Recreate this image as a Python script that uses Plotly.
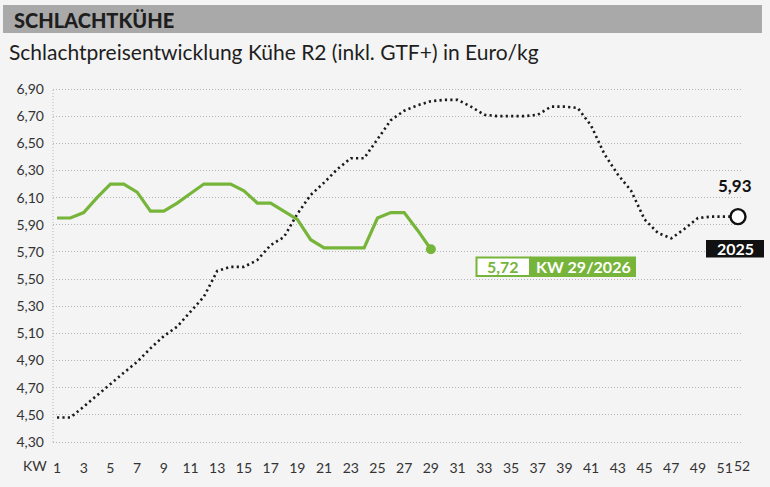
import plotly.graph_objects as go

# ---------------- data ----------------
weeks_2025 = list(range(1, 53))
prices_2025 = [4.48, 4.48, 4.56, 4.645, 4.73, 4.81, 4.89, 4.99, 5.08, 5.15,
               5.26, 5.37, 5.56, 5.59, 5.59, 5.64, 5.75, 5.81, 5.98, 6.12,
               6.21, 6.31, 6.39, 6.39, 6.53, 6.67, 6.74, 6.78, 6.81, 6.82,
               6.82, 6.77, 6.71, 6.70, 6.70, 6.70, 6.71, 6.77, 6.77, 6.76,
               6.63, 6.42, 6.27, 6.15, 5.94, 5.84, 5.80, 5.87, 5.95, 5.96,
               5.96, 5.96]

weeks_2026 = list(range(1, 30))
prices_2026 = [5.95, 5.95, 5.99, 6.10, 6.20, 6.20, 6.14, 6.00, 6.00, 6.06,
               6.13, 6.20, 6.20, 6.20, 6.15, 6.06, 6.06, 6.00, 5.94, 5.79,
               5.73, 5.73, 5.73, 5.73, 5.95, 5.99, 5.99, 5.86, 5.72]

x_tick_vals = [1, 3, 5, 7, 9, 11, 13, 15, 17, 19, 21, 23, 25, 27, 29, 31,
               33, 35, 37, 39, 41, 43, 45, 47, 49, 51, 52]
x_tick_text = [str(v) for v in x_tick_vals]
y_tick_vals = [4.30, 4.50, 4.70, 4.90, 5.10, 5.30, 5.50, 5.70, 5.90, 6.10,
               6.30, 6.50, 6.70, 6.90]
y_tick_text = ["4,30", "4,50", "4,70", "4,90", "5,10", "5,30", "5,50",
               "5,70", "5,90", "6,10", "6,30", "6,50", "6,70", "6,90"]

title_text = "SCHLACHTKÜHE"
subtitle_text = "Schlachtpreisentwicklung Kühe R2 (inkl. GTF+) in Euro/kg"
x_axis_label = "KW"
last_2025_label = "5,93"
series_2025_label = "2025"
last_2026_label = "5,72"
week_2026_label = "KW 29/2026"

# ---------------- style ----------------
W, H = 770, 487
ML, MR, MT, MB = 53, 27, 85, 41
PW, PH = W - ML - MR, H - MT - MB
GREEN = "#77b53a"
BG = "#f4f4f4"
GRID = "#b4b4b4"
FONT = "Lato"
TICK_FONT = dict(family=FONT, size=14, color="#333")


def px(x):
    return (x - ML) / PW


def py(y):
    return (H - MB - y) / PH


fig = go.Figure()

fig.add_trace(go.Scatter(
    x=weeks_2025, y=prices_2025, mode="lines",
    line=dict(color="#1a1a1a", width=2.6, dash="2.2px,3.2px"),
    hoverinfo="skip", cliponaxis=False, showlegend=False))

fig.add_trace(go.Scatter(
    x=weeks_2026, y=prices_2026, mode="lines",
    line=dict(color=GREEN, width=3.2),
    hoverinfo="skip", cliponaxis=False, showlegend=False))

fig.add_trace(go.Scatter(
    x=[weeks_2026[-1]], y=[prices_2026[-1]], mode="markers",
    marker=dict(color=GREEN, size=10),
    hoverinfo="skip", cliponaxis=False, showlegend=False))

fig.add_trace(go.Scatter(
    x=[weeks_2025[-1]], y=[prices_2025[-1]], mode="markers",
    marker=dict(color="white", size=15, line=dict(color="#111", width=2.4)),
    hoverinfo="skip", cliponaxis=False, showlegend=False))

# y range chosen so that 6.90 / 4.30 sit 4 px inside the plot edges
ppu = (PH - 8) / (6.90 - 4.30)
y_lo = 4.30 - 4 / ppu
y_hi = 6.90 + 4 / ppu
x_ppw = (738 - 57) / 51
x_lo = 1 - (57 - ML) / x_ppw
x_hi = 52 + (ML + PW - 738) / x_ppw

shapes = [
    # header band
    dict(type="rect", xref="paper", yref="paper", x0=px(3), x1=px(762),
         y0=py(33), y1=py(5), fillcolor="#a9a9a9", line=dict(width=0),
         layer="below"),
    # dotted y axis line
    dict(type="line", xref="paper", yref="y", x0=0, x1=0, y0=4.30, y1=6.90,
         line=dict(color=GRID, width=1, dash="1px,2px"), layer="below"),
    # label box for current week
    dict(type="rect", xref="paper", yref="paper", x0=px(476.5), x1=px(530),
         y0=py(276), y1=py(257.5), fillcolor="white",
         line=dict(color=GREEN, width=2)),
    dict(type="rect", xref="paper", yref="paper", x0=px(530), x1=px(636),
         y0=py(277), y1=py(256.5), fillcolor=GREEN, line=dict(width=0)),
    # 2025 box
    dict(type="rect", xref="paper", yref="paper", x0=px(706), x1=px(764),
         y0=py(257.5), y1=py(240), fillcolor="#111", line=dict(width=0)),
]

annotations = [
    dict(text=title_text, xref="paper", yref="paper", x=px(12), y=py(19.5),
         xanchor="left", yanchor="middle", showarrow=False,
         font=dict(family=FONT, size=20, color="#1e1e1e", weight=900)),
    dict(text=subtitle_text, xref="paper", yref="paper", x=px(7), y=py(51),
         xanchor="left", yanchor="middle", showarrow=False,
         font=dict(family=FONT, size=21, color="#1e1e1e")),
    dict(text=x_axis_label, xref="paper", yref="paper", x=px(35), y=py(466),
         xanchor="center", yanchor="middle", showarrow=False,
         font=TICK_FONT),
    # last week label, nudged right so it does not collide with "51"
    dict(text=x_tick_text[-1], xref="x", yref="paper", x=x_tick_vals[-1],
         y=py(466), xanchor="center", yanchor="middle", xshift=4,
         showarrow=False, font=TICK_FONT),
    dict(text=last_2026_label, xref="paper", yref="paper", x=px(503),
         y=py(266.5), xanchor="center", yanchor="middle", showarrow=False,
         font=dict(family=FONT, size=16, color=GREEN, weight=700)),
    dict(text=week_2026_label, xref="paper", yref="paper", x=px(583),
         y=py(266.5), xanchor="center", yanchor="middle", showarrow=False,
         font=dict(family=FONT, size=16, color="white", weight=700)),
    dict(text=series_2025_label, xref="paper", yref="paper", x=px(735),
         y=py(248.7), xanchor="center", yanchor="middle", showarrow=False,
         font=dict(family=FONT, size=16, color="white", weight=700)),
    dict(text=last_2025_label, xref="paper", yref="paper", x=px(735),
         y=py(185), xanchor="center", yanchor="middle", showarrow=False,
         font=dict(family=FONT, size=17, color="#111", weight=700)),
]

fig.update_layout(
    width=W, height=H,
    margin=dict(l=ML, r=MR, t=MT, b=MB, pad=0),
    paper_bgcolor=BG, plot_bgcolor=BG,
    showlegend=False,
    shapes=shapes, annotations=annotations,
    xaxis=dict(range=[x_lo, x_hi], tickvals=x_tick_vals[:-1],
               ticktext=x_tick_text[:-1],
               showgrid=False, zeroline=False, showline=False, ticks="",
               tickangle=0, ticklabelstandoff=12, tickfont=TICK_FONT),
    yaxis=dict(range=[y_lo, y_hi], tickvals=y_tick_vals, ticktext=y_tick_text,
               showgrid=True, gridcolor=GRID, gridwidth=1,
               griddash="1px,2px",
               zeroline=False, showline=False, ticks="",
               ticklabelstandoff=8, tickfont=TICK_FONT),
)

fig.write_html("out.html")
